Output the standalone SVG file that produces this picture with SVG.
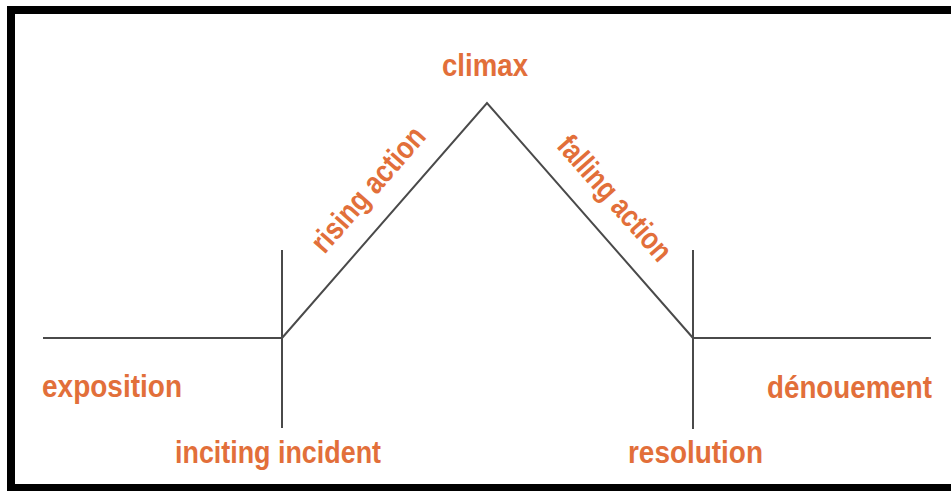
<svg xmlns="http://www.w3.org/2000/svg" width="951" height="491" viewBox="0 0 951 491">
  <style>
    .frame { fill: #000; }
    .line { stroke: #4a4a4a; stroke-width: 2; fill: none; stroke-linecap: square; }
    .lbl { font-family: "Liberation Sans", Arial, sans-serif; font-weight: bold; font-size: 31px; fill: #e26f3a; }
  </style>
  <rect x="0" y="0" width="951" height="491" fill="#fff"/>
  <g id="frame">
    <rect class="frame" x="7" y="6" width="944" height="8"/>
    <rect class="frame" x="7" y="6" width="8" height="485"/>
    <rect class="frame" x="7" y="484" width="944" height="7"/>
  </g>
  <g id="connectors">
    <line class="line" x1="44" y1="338" x2="282" y2="338"/>
    <line class="line" x1="282" y1="251" x2="282" y2="427"/>
    <polyline class="line" points="282,338 487,103 693,338" stroke-linejoin="miter"/>
    <line class="line" x1="693" y1="251" x2="693" y2="428"/>
    <line class="line" x1="693" y1="338" x2="930" y2="338"/>
  </g>
  <g id="climax"><text class="lbl" x="485" y="76" text-anchor="middle" textLength="86" lengthAdjust="spacingAndGlyphs">climax</text></g>
  <g id="rising-action"><text class="lbl" transform="translate(376,196) rotate(-48.8)" text-anchor="middle" textLength="156" lengthAdjust="spacingAndGlyphs">rising action</text></g>
  <g id="falling-action"><text class="lbl" transform="translate(607,205) rotate(48.6)" text-anchor="middle" textLength="156" lengthAdjust="spacingAndGlyphs">falling action</text></g>
  <g id="exposition"><text class="lbl" x="42" y="397" textLength="140" lengthAdjust="spacingAndGlyphs">exposition</text></g>
  <g id="inciting-incident"><text class="lbl" x="175" y="463" textLength="206" lengthAdjust="spacingAndGlyphs">inciting incident</text></g>
  <g id="resolution"><text class="lbl" x="628" y="463" textLength="135" lengthAdjust="spacingAndGlyphs">resolution</text></g>
  <g id="denouement"><text class="lbl" x="767" y="398" textLength="165" lengthAdjust="spacingAndGlyphs">dénouement</text></g>
</svg>
